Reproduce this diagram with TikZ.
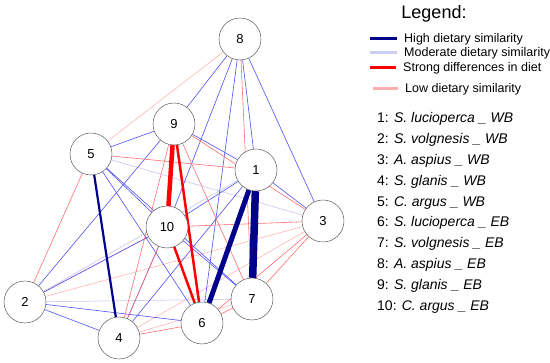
\documentclass[tikz,border=0pt]{standalone}
\usepackage{fontspec}
\setmainfont{Liberation Sans}
\usepackage{tikz}
\usetikzlibrary{positioning, backgrounds}
\definecolor{simNavy}{RGB}{0, 0, 139}
\definecolor{simBlue}{RGB}{80, 80, 245}
\definecolor{simPale}{RGB}{205, 205, 245}
\definecolor{diffRed}{RGB}{255, 0, 0}
\definecolor{diffLight}{RGB}{255, 110, 110}
\definecolor{diffPale}{RGB}{255, 190, 190}

\begin{document}
\begin{tikzpicture}[
    x=1pt, y=-1pt,
    species/.style={
        circle,
        draw=black!75,
        fill=white,
        minimum size=42pt,
        inner sep=0pt,
        font=\fontsize{13}{13}\selectfont
    },
    high/.style={draw=simNavy},
    moderate/.style={draw=simBlue, line width=0.6pt},
    faint/.style={draw=simPale, line width=0.7pt},
    strong/.style={draw=diffRed},
    low/.style={draw=diffLight, line width=0.6pt},
    lowpale/.style={draw=diffPale, line width=0.7pt},
    keyline/.style={line width=3pt, shorten >=6pt},
    keytext/.style={anchor=west, inner sep=1pt, font=\fontsize{12.5}{13}\selectfont},
    listtext/.style={anchor=west, inner sep=1pt, font=\fontsize{14}{15}\selectfont}
]
\useasboundingbox (0,0) rectangle (550,363);

% Species nodes
\node[species] (n8) at (240, 39) {8};
\node[species] (n9) at (174, 124) {9};
\node[species] (n5) at (91, 154) {5};
\node[species] (n1) at (256, 170) {1};
\node[species] (n3) at (323, 221) {3};
\node[species] (n10) at (167, 227) {10};
\node[species] (n2) at (25, 302) {2};
\node[species] (n7) at (252, 299) {7};
\node[species] (n6) at (202, 323) {6};
\node[species] (n4) at (119, 338) {4};

\begin{pgfonlayer}{background}
% Pale links
\draw[lowpale] (n8) -- (n5);
\draw[lowpale] (n2) -- (n3);
\draw[lowpale] (n4) -- (n3);
\draw[lowpale] (n2) -- (n10);
\draw[lowpale] (n4) -- (n7);
\draw[faint] (n5) -- (n3);
\draw[faint] (n2) -- (n7);
\draw[faint] (n2) -- (n1);

% Moderate links
\draw[moderate] (n8) -- (n9);
\draw[moderate] (n8) -- (n10);
\draw[moderate] (n8) -- (n6);
\draw[moderate] (n8) -- (n1);
\draw[moderate] (n8) -- (n3);
\draw[moderate] (n5) -- (n9);
\draw[moderate] (n5) -- (n10);
\draw[moderate] (n5) -- (n7);
\draw[moderate] (n5) -- (n6);
\draw[moderate] (n9) -- (n1);
\draw[moderate] (n9) -- (n2);
\draw[moderate] (n1) -- (n10);
\draw[moderate] (n1) -- (n3);
\draw[moderate] (n1) -- (n4);
\draw[moderate] (n10) -- (n2);
\draw[moderate] (n10) -- (n4);
\draw[moderate] (n10) -- (n7);
\draw[moderate] (n2) -- (n6);
\draw[moderate] (n2) -- (n4);

% Low links
\draw[low] (n8) -- (n7);
\draw[low] (n5) -- (n1);
\draw[low] (n5) -- (n2);
\draw[low] (n9) -- (n3);
\draw[low] (n9) -- (n7);
\draw[low] (n9) -- (n4);
\draw[low] (n10) -- (n4);
\draw[low] (n10) -- (n3);
\draw[low] (n10) -- (n6);
\draw[low] (n4) -- (n6);
\draw[low] (n6) -- (n3);
\draw[low] (n7) -- (n3);
\draw[low] (n6) -- (n7);

% Strong links
\draw[strong, line width=4.5pt] (n9) -- (n10);
\draw[strong, line width=2.5pt] (n9) -- (n6);
\draw[strong, line width=2.5pt] (n10) -- (n6);
\draw[high, line width=7.5pt] (n1) -- (n7);
\draw[high, line width=5pt] (n1) -- (n6);
\draw[high, line width=2.2pt] (n5) -- (n4);
\end{pgfonlayer}

% Legend
\node[font=\fontsize{18}{19}\selectfont] (legend) at (434, 14) {Legend:};
\node[keytext] (kHigh) at (403, 39) {High dietary similarity};
\node[keytext] (kMod) at (403, 53) {Moderate dietary similarity};
\node[keytext] (kStrong) at (402, 68) {Strong differences in diet};
\node[keytext] (kLow) at (404, 89) {Low dietary similarity};
\coordinate (kHighL) at (370, 39);
\coordinate (kModL) at (370, 53);
\coordinate (kStrongL) at (370, 68);
\coordinate (kLowL) at (373, 89);
\draw[keyline, simNavy] (kHighL) -- (kHigh.west);
\draw[keyline, simPale] (kModL) -- (kMod.west);
\draw[keyline, diffRed] (kStrongL) -- (kStrong.west);
\draw[keyline, diffPale!80!diffLight] (kLowL) -- (kLow.west);

% Species list
\node[listtext] (s1) at (376, 119) {1: \textit{S. lucioperca \_ WB}};
\node[listtext, below=5.5pt of s1.south west, anchor=north west] (s2) {2: \textit{S. volgnesis \_ WB}};
\node[listtext, below=5.5pt of s2.south west, anchor=north west] (s3) {3: \textit{A. aspius \_ WB}};
\node[listtext, below=5.5pt of s3.south west, anchor=north west] (s4) {4: \textit{S. glanis \_ WB}};
\node[listtext, below=5.5pt of s4.south west, anchor=north west] (s5) {5: \textit{C. argus \_ WB}};
\node[listtext, below=5.5pt of s5.south west, anchor=north west] (s6) {6: \textit{S. lucioperca \_ EB}};
\node[listtext, below=5.5pt of s6.south west, anchor=north west] (s7) {7: \textit{S. volgnesis \_ EB}};
\node[listtext, below=5.5pt of s7.south west, anchor=north west] (s8) {8: \textit{A. aspius \_ EB}};
\node[listtext, below=5.5pt of s8.south west, anchor=north west] (s9) {9: \textit{S. glanis \_ EB}};
\node[listtext, below=5.5pt of s9.south west, anchor=north west] (s10) {10: \textit{C. argus \_ EB}};

\end{tikzpicture}
\end{document}
